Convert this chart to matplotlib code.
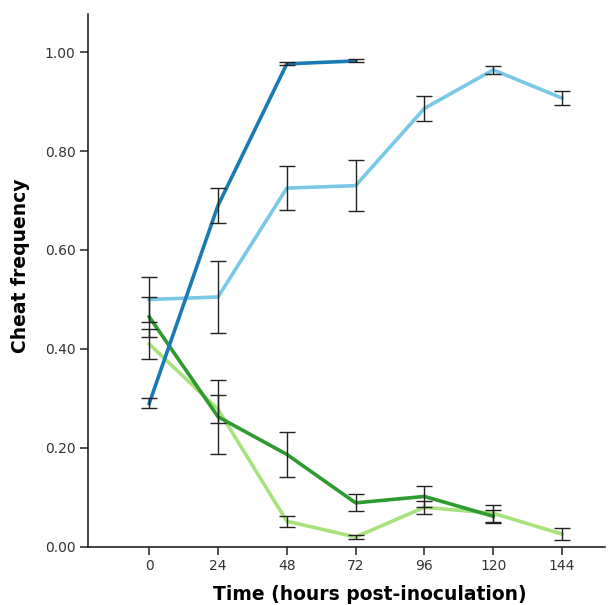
import matplotlib
matplotlib.use("Agg")
import matplotlib.pyplot as plt

# time points (hours post-inoculation)
hours = [0, 24, 48, 72, 96, 120, 144]

# mean cheat frequency and error (half-width) per series
dark_blue_t = [0, 24, 48, 72]
dark_blue = [0.290, 0.690, 0.976, 0.982]
dark_blue_err = [0.010, 0.035, 0.003, 0.003]

light_blue = [0.500, 0.505, 0.725, 0.730, 0.886, 0.964, 0.907]
light_blue_err = [0.045, 0.073, 0.045, 0.052, 0.026, 0.008, 0.014]

dark_green_t = [0, 24, 48, 72, 96, 120]
dark_green = [0.465, 0.263, 0.187, 0.089, 0.102, 0.062]
dark_green_err = [0.040, 0.075, 0.045, 0.017, 0.022, 0.013]

light_green = [0.410, 0.278, 0.052, 0.020, 0.080, 0.068, 0.026]
light_green_err = [0.030, 0.028, 0.011, 0.004, 0.013, 0.017, 0.012]

fig = plt.figure(figsize=(6.08, 6.05), dpi=100)
ax = fig.add_axes([0.145, 0.096, 0.85, 0.881])

series = [
    (hours, light_green, light_green_err, '#a8e27c'),
    (dark_green_t, dark_green, dark_green_err, '#2e9a30'),
    (hours, light_blue, light_blue_err, '#79c8e6'),
    (dark_blue_t, dark_blue, dark_blue_err, '#1a7bb4'),
]
for x, y, e, c in series:
    ax.plot(x, y, color=c, linewidth=2.6, zorder=2)
for x, y, e, c in series:
    ax.errorbar(x, y, yerr=e, fmt='none', ecolor='#222222', elinewidth=1.0,
                capsize=5.5, capthick=1.0, zorder=3)

ax.set_xlim(-21.3, 159)
ax.set_ylim(0, 1.077)
ax.set_xticks(hours)
ax.set_yticks([0, 0.2, 0.4, 0.6, 0.8, 1.0])
ax.set_yticklabels(['0.00', '0.20', '0.40', '0.60', '0.80', '1.00'])

for s in ['top', 'right']:
    ax.spines[s].set_visible(False)
for s in ['left', 'bottom']:
    ax.spines[s].set_linewidth(1.2)
    ax.spines[s].set_color('#222222')
ax.tick_params(direction='out', length=6, width=1.1, color='#222222',
               labelsize=10, labelcolor='#333333', pad=3)

ax.set_xlabel('Time (hours post-inoculation)', fontsize=13.5, fontweight='bold')
ax.set_ylabel('Cheat frequency', fontsize=13.5, fontweight='bold')
ax.xaxis.set_label_coords(0.545, -0.072)
ax.yaxis.set_label_coords(-0.112, 0.527)

fig.savefig('out.png', dpi=100)
